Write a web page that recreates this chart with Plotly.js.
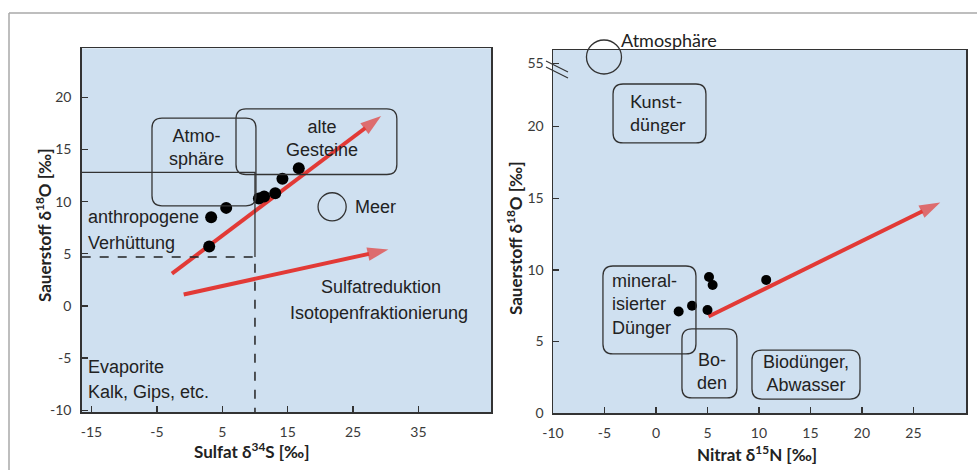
<!DOCTYPE html>
<html><head><meta charset="utf-8">
<script src="https://cdn.plot.ly/plotly-3.0.1.min.js"></script>
<style>html,body{margin:0;padding:0;background:#fff;} #chart{width:977px;height:470px;}</style>
</head><body><div id="chart"></div>
<script>
// ---------- data ----------
// left panel: Sulfat δ34S vs Sauerstoff δ18O
const sulfatX = [3.3, 5.6, 10.6, 11.4, 13.1, 14.2, 16.7, 3.0];
const sulfatY = [8.5, 9.4, 10.3, 10.5, 10.8, 12.2, 13.2, 5.7];
// right panel: Nitrat δ15N vs Sauerstoff δ18O
const nitratX = [2.2, 3.5, 5.0, 5.15, 5.5, 10.7];
const nitratY = [7.1, 7.5, 7.2, 9.5, 8.95, 9.3];

const leftXTicks = [-15, -5, 5, 15, 25, 35];
const leftYTicks = [-10, -5, 0, 5, 10, 15, 20];
const rightXTicks = [-10, -5, 0, 5, 10, 15, 20, 25];
const rightYTicks = [0, 5, 10, 15, 20, 24.4];
const rightYTickText = ['0', '5', '10', '15', '20', '55'];

// arrows: [x0, y0, x1(tip), y1(tip)]
const sulfatArrows = [[-2.7, 3.1, 29.3, 18.2], [-0.9, 1.1, 30.4, 5.4]];
const nitratArrows = [[5.1, 6.75, 27.6, 14.7]];

// rounded boxes: [x0, x1, y0, y1]
const sulfatBoxes = [[-5.75, 10.15, 9.6, 18.0], [7.1, 31.7, 12.6, 18.9]];
const nitratBoxes = [[-4.17, 4.85, 18.85, 22.96], [-5.15, 3.88, 4.14, 10.27], [2.52, 7.86, 1.07, 5.88], [9.32, 19.81, 0.99, 4.41]];
// Meer circle: centre x, centre y, radius x, radius y
const meerCircle = [21.8, 9.5, 2.15, 1.35];
// Atmosphäre circle (right): centre x, radius x
const atmoCircleX = [-5.05, 1.7];

// zone lines in left panel
const evapXMax = 10;      // right edge of Evaporite zone
const evapYTop = 4.7;     // dashed top
const atmoZoneY = 12.8;   // solid line

// ---------- layout geometry ----------
const W = 977, H = 470;
const LXdom = [81.7 / W, 491 / W], LYdom = [(H - 412.3) / H, (H - 48.3) / H];
const RXdom = [553 / W, 966 / W], RYdom = [(H - 413.3) / H, (H - 50) / H];
const LXr = [-16.5, 46.1], LYr = [-10.2, 24.7];
const RXr = [-10, 30.1], RYr = [0, 25.33];
const scale = (dom, r, len) => (dom[1] - dom[0]) * len / (r[1] - r[0]);
const lxs = scale(LXdom, LXr, W), lys = scale(LYdom, LYr, H);
const rxs = scale(RXdom, RXr, W), rys = scale(RYdom, RYr, H);
const txt = arr => arr.map(v => String(v));   // plain hyphen-minus like the original

function roundRect(b, xs, ys, rpx, xref, yref) {
  const [x0, x1, y0, y1] = b;
  const rx = rpx / xs, ry = rpx / ys;
  const p = `M${x0 + rx},${y0} L${x1 - rx},${y0} Q${x1},${y0} ${x1},${y0 + ry} L${x1},${y1 - ry} Q${x1},${y1} ${x1 - rx},${y1} L${x0 + rx},${y1} Q${x0},${y1} ${x0},${y1 - ry} L${x0},${y0 + ry} Q${x0},${y0} ${x0 + rx},${y0} Z`;
  return {type: 'path', path: p, xref: xref, yref: yref, line: {color: '#333', width: 1.3}, layer: 'above'};
}

const RED = '#e23a36';
const TXT = '#222';
const ARIAL = 'Liberation Sans, Arial, sans-serif';
const CAL = 'Lato, Calibri, sans-serif';

const traces = [];
function arrowTrace(a, xa, ya) {
  traces.push({x: [a[0], a[2]], y: [a[1], a[3]], xaxis: xa, yaxis: ya, type: 'scatter', mode: 'lines+markers',
    line: {color: RED, width: 4}, cliponaxis: false, hoverinfo: 'skip',
    marker: {symbol: 'arrow', size: [0, 22], angleref: 'previous', color: RED, line: {width: 0}}});
}
sulfatArrows.forEach(a => arrowTrace(a, 'x', 'y'));
nitratArrows.forEach(a => arrowTrace(a, 'x2', 'y2'));
traces.push({x: sulfatX, y: sulfatY, xaxis: 'x', yaxis: 'y', mode: 'markers', type: 'scatter',
   marker: {color: '#000', size: 12}, cliponaxis: false, hoverinfo: 'x+y'});
traces.push({x: nitratX, y: nitratY, xaxis: 'x2', yaxis: 'y2', mode: 'markers', type: 'scatter',
   marker: {color: '#000', size: 10}, cliponaxis: false, hoverinfo: 'x+y'});

const shapes = [];
sulfatBoxes.forEach(b => shapes.push(roundRect(b, lxs, lys, 10, 'x', 'y')));
nitratBoxes.forEach(b => shapes.push(roundRect(b, rxs, rys, 10, 'x2', 'y2')));
shapes.push({type: 'circle', xref: 'x', yref: 'y', x0: meerCircle[0] - meerCircle[2], x1: meerCircle[0] + meerCircle[2],
  y0: meerCircle[1] - meerCircle[3], y1: meerCircle[1] + meerCircle[3], line: {color: '#333', width: 1.3}});
// zone lines
shapes.push({type: 'path', xref: 'x', yref: 'y', path: `M${LXr[0]},${atmoZoneY} L${evapXMax},${atmoZoneY} L${evapXMax},${evapYTop}`,
  line: {color: '#333', width: 1.3}});
shapes.push({type: 'path', xref: 'x', yref: 'y', path: `M${LXr[0]},${evapYTop} L${evapXMax},${evapYTop} L${evapXMax},${LYr[0]}`,
  line: {color: '#222', width: 1.5, dash: 'dash'}});
// Atmosphäre circle on right panel (crosses the top edge)
const cyPx = 57, crPx = 17;
shapes.push({type: 'circle', xref: 'x2', yref: 'paper', x0: atmoCircleX[0] - atmoCircleX[1], x1: atmoCircleX[0] + atmoCircleX[1],
  y0: (H - cyPx - crPx) / H, y1: (H - cyPx + crPx) / H, line: {color: '#333', width: 1.3}});
// axis break marks
[[546, 61, 568, 72], [546, 67, 568, 78]].forEach(s => shapes.push({type: 'line', xref: 'paper', yref: 'paper',
  x0: s[0] / W, y0: (H - s[1]) / H, x1: s[2] / W, y1: (H - s[3]) / H, line: {color: '#333', width: 1.2}}));
// outer frame
shapes.push({type: 'line', xref: 'paper', yref: 'paper', x0: 9 / W, x1: 1.01, y0: (H - 13) / H, y1: (H - 13) / H, line: {color: '#a8a8a8', width: 1.5}});
shapes.push({type: 'line', xref: 'paper', yref: 'paper', x0: 9 / W, x1: 9 / W, y0: (H - 13) / H, y1: -0.01, line: {color: '#a8a8a8', width: 1.5}});

const annotations = [];
function label(text, x, y, xr, yr, opts) {
  annotations.push(Object.assign({text: text, x: x, y: y, xref: xr, yref: yr, showarrow: false,
    font: {family: ARIAL, size: 18, color: TXT}, xanchor: 'center', yanchor: 'middle'}, opts || {}));
}
// left panel labels
label('Atmo-<br>sphäre', 1.13, 15.2, 'x', 'y');
label('alte<br>Gesteine', 20.2, 16.06, 'x', 'y');
label('Meer', 25.0, 9.47, 'x', 'y', {xanchor: 'left'});
label('anthropogene', -15.8, 8.52, 'x', 'y', {xanchor: 'left'});
label('Verhüttung', -15.8, 6.0, 'x', 'y', {xanchor: 'left'});
label('Sulfatreduktion', 29.3, 1.78, 'x', 'y');
label('Isotopenfraktionierung', 29.0, -0.72, 'x', 'y');
label('Evaporite', -15.8, -5.87, 'x', 'y', {xanchor: 'left'});
label('Kalk, Gips, etc.', -15.8, -8.24, 'x', 'y', {xanchor: 'left'});
// right panel labels
label('Kunst-<br>dünger', -2.7, 20.94, 'x2', 'y2', {xanchor: 'left', align: 'left', font: {family: CAL, size: 18, color: TXT}});
label('Atmosphäre', -3.55, (H - 40) / H, 'x2', 'paper', {xanchor: 'left', font: {family: CAL, size: 18, color: TXT}});
label('mineral-<br>isierter<br>Dünger', -4.5, 7.62, 'x2', 'y2', {xanchor: 'left', align: 'left'});
label('Bo-<br>den', 5.41, 2.9, 'x2', 'y2');
label('Biodünger,<br>Abwasser', 14.56, 2.8, 'x2', 'y2');
// axis titles
const TF = {family: CAL, size: 17, color: TXT};
label('<b>Sulfat δ<sup>34</sup>S [‰]</b>', 251.7 / W, (H - 450) / H, 'paper', 'paper', {font: TF});
label('<b>Nitrat δ<sup>15</sup>N [‰]</b>', 756.7 / W, (H - 453) / H, 'paper', 'paper', {font: TF});
label('<b>Sauerstoff δ<sup>18</sup>O [‰]</b>', 44 / W, (H - 225) / H, 'paper', 'paper', {font: TF, textangle: -90});
label('<b>Sauerstoff δ<sup>18</sup>O [‰]</b>', 515 / W, (H - 238) / H, 'paper', 'paper', {font: TF, textangle: -90});

const tickFont = {family: CAL, size: 14, color: '#3a3a3a'};
const axBase = {showgrid: false, zeroline: false, showline: true, mirror: true, linecolor: '#333', linewidth: 1.5,
  ticks: 'inside', ticklen: 6, tickwidth: 1.3, tickcolor: '#333', tickfont: tickFont, fixedrange: true, tickmode: 'array'};

const layout = {
  width: W, height: H, margin: {l: 0, r: 0, t: 0, b: 0}, paper_bgcolor: '#fff', plot_bgcolor: '#cfe0f0',
  showlegend: false,
  xaxis: Object.assign({}, axBase, {domain: LXdom, range: LXr, tickvals: leftXTicks, ticktext: txt(leftXTicks), anchor: 'y', ticklabelstandoff: 6}),
  yaxis: Object.assign({}, axBase, {domain: LYdom, range: LYr, tickvals: leftYTicks, ticktext: txt(leftYTicks), anchor: 'x', ticklabelstandoff: 6}),
  xaxis2: Object.assign({}, axBase, {domain: RXdom, range: RXr, tickvals: rightXTicks, ticktext: txt(rightXTicks), anchor: 'y2', ticklabelstandoff: 6}),
  yaxis2: Object.assign({}, axBase, {domain: RYdom, range: RYr, tickvals: rightYTicks, ticktext: rightYTickText, anchor: 'x2', ticklabelstandoff: 5}),
  shapes: shapes, annotations: annotations
};

Plotly.newPlot('chart', traces, layout, {displayModeBar: false, staticPlot: true});
</script>
</body></html>
